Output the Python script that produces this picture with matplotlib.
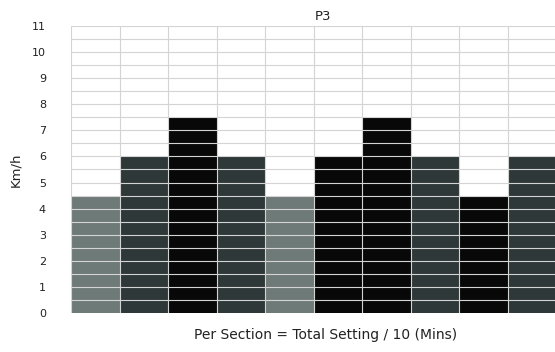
import numpy as np
import matplotlib.pyplot as plt

sections = np.arange(10)
speeds = [4.5, 6, 7.5, 6, 4.5, 6, 7.5, 6, 4.5, 6]
bar_colors = ['#6e7a78', '#2e3838', '#080808', '#2e3838', '#6e7a78',
              '#080808', '#080808', '#2e3838', '#080808', '#2e3838']
yticks = list(range(0, 12))

fig = plt.figure(figsize=(5.55, 3.52), dpi=100)
ax = fig.add_axes([0.128, 0.111, 0.874, 0.815])

ax.bar(sections, speeds, width=1.0, align='edge', color=bar_colors, zorder=1)

# grid over the bars
for y in np.arange(0.5, 11.01, 0.5):
    ax.axhline(y, color='#d4d4d4', lw=0.8, zorder=2)
for x in range(0, 11):
    ax.axvline(x, color='#d4d4d4', lw=0.8, zorder=2)

ax.set_xlim(0, 10)
ax.set_ylim(0, 11)
ax.set_yticks(yticks)
ax.set_xticks([])
ax.tick_params(axis='y', length=0, pad=18, labelsize=8, colors='#222222')
for s in ax.spines.values():
    s.set_visible(False)

ax.set_title('P3', fontsize=9.5, pad=4, color='#222222', x=0.52)
ax.set_ylabel('Km/h', fontsize=9.5, labelpad=7, color='#222222')
ax.set_xlabel('Per Section = Total Setting / 10 (Mins)', fontsize=10, labelpad=11,
              color='#222222', x=0.525)

fig.savefig('out.png', dpi=100)
